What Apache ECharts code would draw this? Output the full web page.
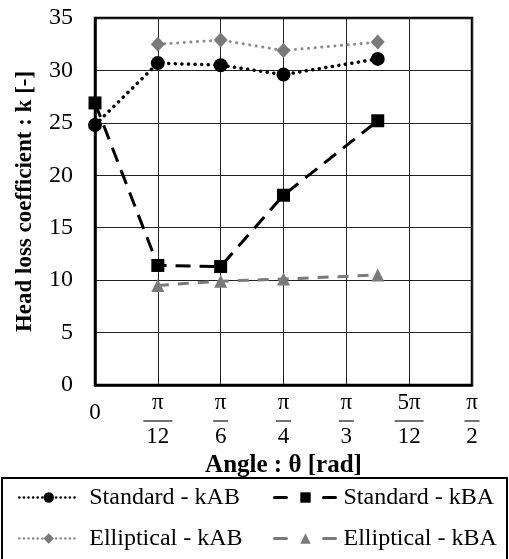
<!DOCTYPE html>
<html>
<head>
<meta charset="utf-8">
<script src="https://cdn.jsdelivr.net/npm/echarts@6/dist/echarts.min.js"></script>
<style>
  html, body { margin: 0; padding: 0; background: #fff; }
  #chart { width: 509px; height: 559px; }
</style>
</head>
<body>
<div id="chart"></div>
<script>
// angles in degrees (0 .. 90, tick every 15 = pi/12)
var angles = [0, 15, 30, 45, 67.5];
var stdKAB = [24.8, 30.7, 30.5, 29.6, 31.1];
var stdKBA = [26.9, 11.4, 11.3, 18.1, 25.2];
var ellKAB = [null, 32.5, 32.9, 31.9, 32.7];
var ellKBA = [null, 9.5, 9.9, 10.1, 10.5];

var tickNum = ["0", "π", "π", "π", "π", "5π", "π"];
var tickDen = ["", "12", "6", "4", "3", "12", "2"];

var seriesNames = ["Standard - kAB", "Standard - kBA", "Elliptical - kAB", "Elliptical - kBA"];

function pairs(ys) {
  var out = [];
  for (var i = 0; i < angles.length; i++) {
    if (ys[i] != null) out.push([angles[i], ys[i]]);
  }
  return out;
}

var serif = "'Liberation Serif', 'Times New Roman', serif";

// one legend per entry so the two columns line up like the original
function legendItem(name, left, top, width, dash, lw, textPad) {
  return {
    left: left, top: top, padding: 0,
    itemWidth: width, itemHeight: 13,
    data: [{ name: name, lineStyle: { width: lw, type: dash, cap: "round" } }],
    textStyle: { fontFamily: serif, fontSize: 24, color: "#000", lineHeight: 27, padding: [0, 0, 0, textPad] }
  };
}

var myChart = echarts.init(document.getElementById("chart"));
var option = {
  animation: false,
  grid: {
    left: 95, right: 37, top: 18, bottom: 174,
    show: true, borderColor: "#000", borderWidth: 2.5
  },
  xAxis: {
    type: "value",
    min: 0, max: 90, interval: 15,
    name: "Angle : θ [rad]",
    nameLocation: "middle",
    nameGap: 65,
    nameTextStyle: { fontFamily: serif, fontSize: 25, fontWeight: "bold", color: "#000" },
    axisLine: { show: true, lineStyle: { color: "#000", width: 2.5 } },
    axisTick: { show: false },
    splitLine: { show: true, lineStyle: { color: "#222", width: 1 } },
    axisLabel: {
      margin: 5,
      formatter: function (v) {
        var i = Math.round(v / 15);
        if (tickDen[i] === "") return "{z|" + tickNum[i] + "}";
        var bar = tickDen[i].length > 1 ? "w" : "s";
        return "{n|" + tickNum[i] + "}\n{" + bar + "| }\n{d|" + tickDen[i] + "}";
      },
      rich: {
        z: { fontFamily: serif, fontSize: 23, color: "#000", lineHeight: 46 },
        n: { fontFamily: serif, fontSize: 23, color: "#000", lineHeight: 26 },
        d: { fontFamily: serif, fontSize: 23, color: "#000", lineHeight: 22 },
        w: { width: 29, height: 1.5, lineHeight: 10, backgroundColor: "#444", fontSize: 2 },
        s: { width: 15, height: 1.5, lineHeight: 10, backgroundColor: "#444", fontSize: 2 }
      }
    }
  },
  yAxis: {
    type: "value",
    min: 0, max: 35, interval: 5,
    name: "Head loss coefficient : k [-]",
    nameLocation: "middle",
    nameGap: 58,
    nameTextStyle: { fontFamily: serif, fontSize: 23, fontWeight: "bold", color: "#000" },
    axisLine: { show: true, lineStyle: { color: "#000", width: 2.5 } },
    axisTick: { show: false },
    splitLine: { show: true, lineStyle: { color: "#222", width: 1 } },
    axisLabel: { margin: 22, fontFamily: serif, fontSize: 24, color: "#000" }
  },
  legend: [
    legendItem(seriesNames[0], 18, 484, 59, [0.1, 4.5], 2.5, 6),
    legendItem(seriesNames[2], 18, 525, 59, [0.1, 4.5], 2.5, 6),
    legendItem(seriesNames[1], 273, 484, 62, [12, 37], 3, 2),
    legendItem(seriesNames[3], 273, 525, 62, [12, 37], 3, 2)
  ],
  graphic: [
    {
      type: "rect",
      shape: { x: 2, y: 478, width: 505, height: 100 },
      style: { fill: "none", stroke: "#000", lineWidth: 2 }
    }
  ],
  series: [
    {
      name: seriesNames[0], type: "line", data: pairs(stdKAB), clip: false,
      symbol: "circle", symbolSize: 14,
      itemStyle: { color: "#000" },
      lineStyle: { color: "#000", width: 3.5, type: [0.1, 6.5], cap: "round" }
    },
    {
      name: seriesNames[1], type: "line", data: pairs(stdKBA), clip: false,
      symbol: "rect", symbolSize: 13,
      itemStyle: { color: "#000" },
      lineStyle: { color: "#000", width: 3, type: [15, 9] }
    },
    {
      name: seriesNames[2], type: "line", data: pairs(ellKAB), clip: false,
      symbol: "diamond", symbolSize: [14, 15],
      itemStyle: { color: "#7a7a7a" },
      lineStyle: { color: "#8c8c8c", width: 3, type: [0.1, 6.5], cap: "round" }
    },
    {
      name: seriesNames[3], type: "line", data: pairs(ellKBA), clip: false,
      symbol: "triangle", symbolSize: 13,
      itemStyle: { color: "#7a7a7a" },
      lineStyle: { color: "#7a7a7a", width: 3, type: [11, 9] }
    }
  ]
};
option && myChart.setOption(option);
</script>
</body>
</html>
